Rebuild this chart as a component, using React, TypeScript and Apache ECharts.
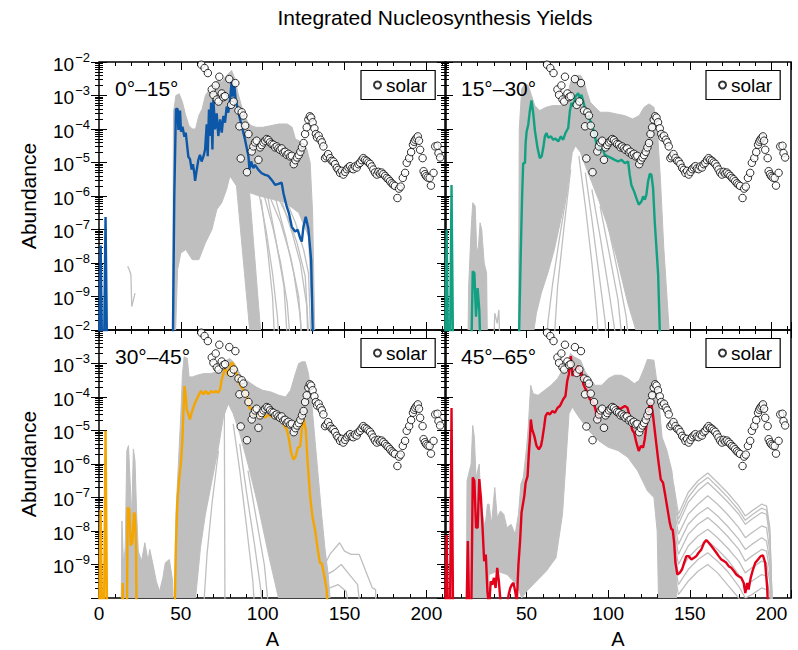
import { useEffect, useRef } from 'react';
import * as echarts from 'echarts';

const FONT = '"Liberation Sans", Arial, Helvetica, sans-serif';
const GREY = '#bfbfbf';

// ---------- labels ----------
const titleText = 'Integrated Nucleosynthesis Yields';
const panelLabels = ['0°–15°', '15°–30°', '30°–45°', '45°–65°'];
const lineColors = ['#0c57a8', '#12a083', '#f4a500', '#e2001a'];
const xTickLabels = [0, 50, 100, 150, 200];

// ---------- data: [A, log10(abundance)]; -11 marks a zero yield (below the axis floor) ----------
const solarLog = [
  [62.5,-2.08],[64.5,-2.18],[66.5,-2.33],[68.9,-2.82],[69.9,-2.98],[71.3,-2.70],[72,-3.12],[73,-3.18],[73.5,-2.44],[75,-2.94],
  [76,-3.05],[77,-3.02],[79.6,-2.51],[80.7,-3.28],[82.3,-3.18],[83.3,-2.63],[85.2,-3.45],[85.8,-3.92],[86.6,-4.88],[87.2,-3.50],
  [88.2,-3.60],[89.3,-3.90],[90.4,-5.29],[91.3,-4.15],[93.3,-4.67],[94.3,-4.52],[95.3,-4.40],[96.3,-4.35],[97.4,-4.92],[98.4,-4.55],
  [99.4,-4.48],[100.5,-4.40],[101.5,-4.35],[102.5,-4.30],[103.5,-4.33],[104.5,-4.40],[105.5,-4.45],[106.6,-4.47],[107.6,-4.55],[108.6,-4.52],
  [109.6,-4.58],[110.6,-4.62],[111.6,-4.58],[112.7,-4.70],[113.7,-4.68],[114.7,-4.77],[115.7,-4.74],[116.8,-4.82],[117.8,-4.80],[119,-5.05],
  [120,-4.93],[121,-4.85],[122,-4.78],[123,-4.68],[124,-4.55],[125,-4.42],[125.9,-4.15],[126.9,-3.95],[127.9,-3.72],[128.8,-3.62],
  [129.6,-3.66],[130.5,-3.80],[131.6,-3.98],[132.5,-4.15],[133.2,-4.25],[134.2,-4.20],[135.3,-4.32],[136.2,-4.40],[137.1,-4.52],[138.1,-4.87],
  [139,-4.82],[140,-4.75],[141.2,-4.87],[142.2,-4.95],[143.2,-4.97],[144.2,-5.05],[145.3,-5.16],[146.3,-5.22],[147.3,-5.31],[148.3,-5.25],
  [149.3,-5.36],[150.4,-5.28],[151.4,-5.20],[152.4,-5.15],[153.4,-5.11],[154.4,-5.18],[155.4,-5.20],[156.4,-5.12],[157.5,-5.15],[158.5,-5.05],
  [159.5,-5.01],[160.5,-4.93],[161.5,-4.87],[162.5,-4.92],[163.6,-4.95],[164.6,-5.00],[165.6,-5.04],[166.6,-5.12],[167.6,-5.21],[168.6,-5.30],
  [169.7,-5.36],[170.7,-5.28],[171.7,-5.33],[172.7,-5.30],[173.7,-5.35],[174.8,-5.40],[175.8,-5.46],[176.8,-5.50],[177.8,-5.56],[178.8,-5.62],
  [179.8,-5.66],[180.8,-5.70],[182.3,-6.06],[183.3,-5.78],[184.3,-5.72],[185.6,-5.46],[187,-5.31],[188,-5.01],[189.5,-4.87],[190.7,-4.69],
  [191.8,-4.47],[192.5,-4.38],[193.2,-4.32],[194,-4.27],[194.8,-4.22],[195.5,-4.35],[196.2,-4.62],[197.7,-4.87],[198.3,-5.26],[199.1,-5.35],
  [199.9,-5.41],[200.8,-5.45],[202,-5.46],[202.8,-5.69],[204.4,-5.31],[205.4,-4.52],[206.8,-4.50],[207.4,-4.72],[208.4,-4.85]
];

const blueLog = [
  [0,-11],[1,-7.48],[2,-11],[3,-11],[4,-6.63],[5,-11],[45,-11],[46,-6.0],[47,-3.4],[48,-3.4],[48.5,-4.03],[49.5,-3.45],[50.1,-4.08],
  [51,-3.93],[52.2,-4.23],[53,-4.11],[54.6,-4.83],[55.6,-4.9],[56.6,-5.21],[57.4,-5.05],[58.3,-5.35],[58.7,-5.55],[59.7,-5.22],[60.7,-4.92],
  [61.7,-4.77],[62.7,-4.97],[63.8,-4.82],[64.8,-4.62],[65.8,-3.86],[66.4,-4.81],[67.2,-3.42],[67.8,-4.21],[68.5,-3.21],[69.3,-4.61],
  [69.9,-3.12],[70.9,-4.01],[71.9,-3.53],[72.9,-4.21],[74,-3.71],[75,-4.11],[76,-3.61],[77,-3.81],[78,-3.33],[79,-3.51],[80.1,-3.11],
  [81.1,-2.55],[81.7,-3.03],[82.7,-2.71],[83.5,-3.11],[85.2,-3.51],[87.2,-3.91],[89.2,-4.31],[91.3,-4.81],[91.9,-5.21],[92.9,-4.97],
  [94.3,-5.17],[95.3,-5.07],[97.4,-5.22],[99.4,-5.32],[101.5,-5.37],[103.5,-5.40],[105.5,-5.52],[107.6,-5.67],[109.6,-5.64],[111.6,-5.60],
  [112.7,-5.92],[114.7,-6.32],[116.1,-6.52],[117.8,-6.92],[119.8,-7.06],[121.4,-7.01],[122.9,-7.26],[123.9,-7.36],[124.9,-6.92],[126.3,-6.62],
  [127.9,-6.97],[129.6,-7.91],[131,-11]
];

const tealLog = [
  [0,-11],[1,-7.0],[2,-11],[3,-11],[4,-5.67],[5,-11],[16,-11],[17,-8.25],[18,-8.3],[19,-9.6],[20,-8.75],[21,-9.4],[22,-11],
  [45,-11],[46.5,-7.52],[47.3,-5.92],[47.9,-5.02],[49,-5.02],[49.4,-4.42],[50,-4.08],[51,-3.88],[52,-3.45],[53,-3.15],[54.1,-3.55],
  [55.1,-4.05],[56.7,-4.57],[58.1,-4.87],[59.2,-4.82],[60.2,-4.57],[61.2,-4.22],[62.2,-4.12],[63.2,-4.26],[64.9,-4.22],[66.3,-4.32],
  [67.7,-4.29],[69.4,-4.37],[71,-4.22],[72.4,-4.32],[73.8,-4.12],[75.5,-3.97],[76.5,-3.47],[77.5,-3.22],[78.5,-3.32],[80,-3.03],
  [81.6,-2.93],[82.6,-3.08],[83.6,-2.98],[84.7,-3.17],[85.7,-3.37],[87.7,-3.57],[89.8,-3.87],[91.8,-4.17],[92.8,-4.47],[93.8,-4.42],
  [94.9,-4.67],[95.9,-4.52],[96.9,-4.62],[97.9,-4.77],[100,-4.82],[102,-4.87],[104,-4.92],[106.1,-4.97],[108.1,-4.92],[110.2,-5.02],
  [112.2,-4.97],[113.2,-5.37],[114.2,-5.67],[115.9,-5.87],[117.3,-6.07],[118.7,-6.26],[120.4,-6.16],[121.4,-6.01],[122.4,-6.11],
  [123.4,-5.96],[124.4,-5.57],[125.5,-5.34],[126.5,-5.37],[127.5,-5.77],[128.5,-6.76],[130.6,-8.35],[132.2,-11]
];

const orangeLog = [
  [0,-11],[1,-7.37],[2,-11],[3,-11],[4,-5.01],[5,-11],[14,-11],[14.5,-9.55],[15,-11],[17,-11],[17.5,-7.3],[18.5,-7.35],[19.4,-8.43],
  [20.4,-8.35],[21.4,-7.45],[22,-7.5],[22.6,-8.43],[23,-11],[46,-11],[47,-8.43],[47.9,-7.13],[48.9,-6.48],[50.1,-5.94],[50.9,-5.34],
  [51.5,-4.55],[52.2,-3.67],[53,-3.97],[53.6,-4.37],[54.6,-4.52],[55.6,-4.67],[56.6,-4.47],[58.3,-4.22],[59.7,-4.07],[61.1,-3.92],
  [62.4,-3.82],[63.8,-3.92],[65.2,-3.82],[66.8,-3.92],[68.5,-3.82],[69.9,-3.87],[71.3,-3.82],[72.9,-3.87],[74,-3.77],[75,-3.47],
  [76,-3.32],[77,-3.15],[78,-3.22],[79,-3.37],[80.1,-3.07],[81.1,-2.97],[82.1,-3.02],[83.1,-3.17],[84.1,-3.32],[85.6,-3.57],
  [87.2,-3.72],[88.8,-3.82],[90.3,-3.97],[91.3,-4.17],[92.3,-4.37],[93.3,-4.32],[94.3,-4.47],[95.3,-4.57],[96.9,-4.47],[98.4,-4.62],
  [99.8,-4.52],[101.5,-4.62],[103.5,-4.52],[105.5,-4.59],[107.6,-4.59],[109.6,-4.67],[111.6,-4.67],[113.3,-4.87],[114.7,-4.97],
  [116.1,-5.27],[117.4,-5.67],[118.8,-5.87],[120.2,-5.77],[121.4,-5.52],[122.9,-5.47],[123.9,-4.97],[124.9,-4.62],[126.3,-4.97],
  [127.5,-5.97],[129,-6.97],[130.4,-7.57],[132,-7.97],[133.7,-8.57],[135,-8.96],[136.1,-8.96],[137.7,-9.36],[139.1,-9.76],[140.2,-11]
];

const redLog = [
  [0,-11],[1,-8.12],[2,-11],[3,-11],[4,-4.33],[5,-11],[13,-11],[14,-8.3],[15,-11],[16,-11],[17,-6.4],[18,-6.5],[19,-7.9],[20,-7.9],
  [21,-6.45],[22,-7.0],[23,-7.9],[24,-8.9],[25,-8.7],[26,-9.8],[27,-10.3],[28,-9.5],[29,-9.6],[30,-9.4],[31,-9.7],[32,-9.1],[33,-9.5],
  [34,-10.1],[35,-10.2],[36,-10.1],[37,-10.3],[38,-10.2],[39,-9.9],[40,-9.7],[41,-9.6],[42,-9.55],[43,-9.8],[44,-10.1],[45,-9.0],
  [46,-8.3],[46.9,-7.45],[48.6,-6.95],[49.4,-6.56],[50.6,-6.36],[51.4,-5.66],[52,-5.26],[52.6,-4.67],[53.4,-4.97],[54.7,-5.16],
  [56.1,-5.46],[57.5,-5.56],[58.8,-5.46],[59.6,-5.26],[60.8,-4.87],[61.6,-4.57],[62.8,-4.47],[64.3,-4.52],[65.7,-4.42],[67.3,-4.47],
  [69,-4.32],[70.4,-4.27],[71.4,-4.17],[72.4,-4.07],[73.8,-3.97],[74.9,-3.52],[75.9,-3.32],[77.1,-2.78],[78.1,-3.37],[79.2,-3.27],
  [80.6,-3.15],[81.6,-3.07],[82.6,-3.37],[83.6,-3.22],[84.7,-3.61],[85.7,-3.72],[87.3,-3.87],[88.7,-4.07],[90.2,-4.12],[91.4,-4.22],
  [92.2,-4.37],[93.4,-4.67],[94.5,-4.37],[95.5,-4.47],[96.9,-4.37],[97.9,-4.47],[99.6,-4.37],[101,-4.42],[102.4,-4.32],[104,-4.37],
  [105.7,-4.29],[107.1,-4.37],[108.5,-4.32],[110.2,-4.27],[111.8,-4.32],[112.6,-4.47],[113.8,-4.77],[114.6,-4.97],[115.9,-5.07],
  [117.3,-5.37],[118.7,-5.61],[120,-5.46],[121.4,-5.51],[122.4,-5.26],[123.4,-4.87],[124.4,-4.47],[125.5,-4.17],[126.5,-4.22],
  [127.5,-4.57],[128.9,-5.16],[130.6,-5.86],[132.2,-6.46],[133.6,-6.56],[135,-6.95],[136.7,-7.45],[137.7,-7.75],[138.7,-7.95],
  [139.5,-7.95],[140.4,-8.35],[141.2,-8.95],[142.4,-9.3],[143.8,-9.25],[145.2,-9.15],[146.5,-8.95],[147.9,-8.75],[149.3,-8.75],
  [151,-8.85],[152.6,-8.8],[154,-8.75],[155.4,-8.65],[157.1,-8.55],[158.7,-8.35],[160.1,-8.27],[161.6,-8.35],[163.2,-8.45],
  [164.8,-8.55],[166.3,-8.65],[167.7,-8.75],[169.3,-8.85],[171,-8.9],[172.4,-8.95],[173.8,-9.05],[175.4,-9.1],[177.1,-9.2],
  [178.5,-9.3],[179.9,-9.35],[181.6,-9.4],[183,-9.55],[184,-9.85],[185.2,-9.55],[186,-9.75],[187.3,-9.4],[188.7,-9.15],[190.1,-8.95],
  [191.8,-8.85],[193.4,-8.75],[194.8,-8.73],[196.2,-8.95],[197.5,-9.75],[198.3,-11]
];

// grey tracer envelopes (outline of the densely overlapping tracer curves)
const greyBand1 = [
  [45,-10.5],[45.5,-3.5],[47,-3.0],[49,-2.95],[51,-3.2],[53,-3.6],[55,-3.9],[57,-4.0],[59,-4.0],[61,-3.6],[63,-3.4],[65,-3.0],
  [67,-2.85],[69,-2.8],[71,-2.6],[73,-2.55],[75,-2.6],[77,-2.45],[79,-2.35],[81,-2.25],[83,-2.5],[85,-2.95],[87,-3.3],[89,-3.6],
  [91,-3.8],[93,-3.9],[96,-3.95],[100,-3.95],[105,-3.9],[110,-3.85],[115,-3.85],[118,-3.95],[120,-4.3],[124,-4.4],[127,-4.6],
  [129,-5.0],[130.5,-6.5],[132,-10.5],
  [131,-10.5],[128,-7.2],[122,-6.5],[114,-6.2],[106,-6.1],[98,-6.0],[92,-5.9],[99.5,-10.5],[93,-10.5],[84,-5.7],[80,-5.4],
  [78,-5.8],[75,-6.2],[72,-6.4],[69,-7.0],[65,-7.4],[61,-7.9],[57,-7.9],[53,-7.6],[50,-7.7],[48,-8.2],[46.5,-10.5]
];
const greyBand2 = [
  [45,-10.5],[45.5,-4.0],[47,-2.8],[49,-2.65],[51,-2.7],[53,-3.0],[55,-3.3],[58,-3.45],[62,-3.35],[66,-3.3],[70,-3.3],[73,-3.3],
  [75,-3.0],[77,-2.6],[79,-2.45],[81,-2.4],[83,-2.4],[85,-2.55],[87,-2.9],[89,-3.2],[92,-3.35],[95,-3.5],[100,-3.5],[105,-3.55],
  [110,-3.6],[115,-3.7],[119,-3.6],[122,-3.35],[125,-3.25],[128,-3.35],[130,-3.9],[132,-5.5],[134,-7.5],[136,-9.0],[138,-10.5],
  [120,-10.5],[112,-9.2],[105,-7.8],[99,-6.8],[94,-6.1],[90,-5.6],[86,-5.1],[83,-4.7],[80,-4.5],[78,-4.7],[75,-5.8],[71,-6.7],
  [67,-7.6],[63,-8.3],[59,-8.9],[56,-9.5],[53,-10.5]
];
const greySmall2 = [
  [14,-10.5],[14.5,-8.7],[16,-7.0],[17,-6.2],[18.5,-6.3],[19.5,-7.7],[20.5,-7.5],[21.5,-6.8],[22.5,-7.0],[24,-8.0],[25.5,-8.3],[26,-10.5]
];
const greyBand3 = [
  [46,-10.5],[47,-7.5],[48.5,-6],[50,-4.5],[51,-3.3],[52,-2.8],[54,-2.85],[55,-3.4],[57,-3.4],[60,-3.35],[64,-3.3],[68,-3.3],
  [72,-3.25],[74,-3.1],[76,-2.95],[78,-2.9],[80,-2.85],[82,-2.95],[84,-3.1],[86,-3.3],[88,-3.45],[90,-3.5],[93,-3.6],[96,-3.7],
  [100,-3.8],[105,-3.85],[110,-3.95],[114,-4.0],[117,-3.8],[120,-3.3],[122,-3.0],[124,-2.95],[126,-2.95],[128,-3.3],[130,-4.2],
  [132,-5.3],[134,-6.4],[136,-7.5],[138,-8.5],[140,-9.3],[142,-10.5],
  [112,-10.5],[104,-8.8],[97,-7.2],[91,-6.0],[86,-5.1],[82,-4.5],[79,-4.2],[76,-4.6],[73,-5.5],[69,-6.5],[65,-7.5],[62,-8.5],
  [60,-9.5],[58,-10.5]
];
const greySmall3 = [
  [13.5,-10.5],[14,-7.7],[15,-9.0],[16,-8.5],[17,-5.6],[18,-5.45],[19,-6.5],[20,-7.6],[21,-5.55],[22,-5.9],[23,-7.5],[24,-8.6],
  [26,-8.9],[28,-8.35],[30,-8.9],[31,-8.55],[33,-9.0],[35,-9.5],[37,-9.8],[39,-9.4],[40.5,-8.95],[43,-8.85],[45,-9.5],[45.5,-10.5]
];
const greyBand4 = [
  [13,-10.5],[13.5,-6.5],[14.5,-6.3],[16,-6.0],[17,-4.85],[18,-5.2],[19,-6.4],[20,-6.2],[21,-6.0],[22,-7.2],[23,-7.5],[24.5,-7.9],
  [26,-7.2],[27,-7.2],[28.5,-7.8],[30.5,-6.7],[32,-7.6],[34,-7.4],[36,-7.5],[38,-7.9],[40.5,-7.8],[43,-8.1],[45,-7.5],[46.5,-6.6],
  [48,-6.4],[50,-5.5],[51,-4.9],[52.5,-3.65],[54,-3.9],[57,-3.95],[61,-3.8],[65,-3.65],[69,-3.45],[72,-3.2],[75,-2.95],[77,-2.7],
  [79,-2.8],[83,-2.9],[86,-3.25],[89,-3.45],[92,-3.65],[96,-3.65],[100,-3.45],[104,-3.35],[108,-3.35],[112,-3.45],[116,-3.6],
  [119,-3.5],[122,-3.15],[124,-2.88],[128,-2.9],[130,-3.6],[131,-4.1],[133,-5.2],[136,-5.6],[139,-6.2],[141,-7.0],[142,-10.5],
  [131,-10.5],[130,-8],[128,-7.0],[124,-6.8],[118,-6.2],[112,-5.8],[106,-5.6],[100,-5.5],[94,-5.3],[88,-5.0],[82,-4.6],[78,-4.3],
  [76,-4.5],[74,-6.0],[72,-7.5],[68,-8.8],[62,-9.2],[56,-9.5],[50,-9.8],[47,-10.0],[44,-9.6],[38,-9.3],[32,-9.2],[27,-9.3],[26,-10.5]
];

// individual grey tracer curves that stand out from the envelopes
const greyLines1 = [
  [[17.5,-8.1],[18.5,-8.2],[19.5,-8.35],[20,-9.3],[21,-9.1],[22,-8.9]],
  [[98,-6.0],[102,-7.0],[106,-8.3],[109,-9.6],[111,-11]],
  [[101,-6.0],[106,-6.9],[111,-8.0],[115,-9.2],[118,-11]],
  [[105,-6.1],[111,-6.8],[117,-7.8],[122,-9.0],[125,-11]],
  [[110,-6.1],[116,-6.7],[121,-7.4],[126,-8.4],[129,-11]],
  [[115,-6.2],[120,-6.8],[125,-7.6],[128,-8.3],[130,-11]],
  [[99,-6.1],[103,-7.6],[106,-9.0],[108,-11]],
  [[103,-6.0],[108,-7.3],[113,-8.7],[116,-11]],
  [[108,-6.1],[114,-7.2],[119,-8.3],[123,-9.6],[124.5,-11]],
  [[112,-6.2],[118,-7.1],[123,-8.0],[127,-9.3],[128,-11]]
];
const greyLines2 = [
  [[29.5,-11],[30.5,-9.5],[32,-9.8],[33,-9.4],[34,-11]],
  [[82,-4.8],[86,-6.3],[90,-8.0],[93,-9.5],[95,-11]],
  [[86,-5.3],[90,-6.7],[94,-8.2],[98,-9.7],[100,-11]],
  [[90,-5.8],[95,-7.2],[100,-8.7],[104,-10.0],[106,-11]],
  [[95,-6.3],[101,-7.8],[106,-9.1],[110,-11]],
  [[100,-6.9],[106,-8.3],[111,-9.6],[114,-11]],
  [[75,-5.8],[70,-7.3],[66,-8.6],[63,-9.8],[62,-11]],
  [[77,-5.2],[73,-6.9],[69,-8.7],[66,-11]]
];
const greyLines3 = [
  [[82,-4.8],[86,-6.2],[90,-7.8],[94,-9.5],[96,-11]],
  [[86,-5.4],[90,-6.8],[95,-8.4],[99,-9.8],[101,-11]],
  [[91,-6.2],[96,-7.6],[101,-9.0],[105,-11]],
  [[73,-5.6],[69,-7.2],[66,-8.7],[63,-11]],
  [[76.5,-3.2],[77,-11]],
  [[138,-9.0],[141,-8.7],[147,-8.35],[150,-8.6],[154,-8.7],[159,-8.7],[163,-9.2],[167,-9.7],[169,-9.75],[169.5,-11]],
  [[139,-9.3],[143,-9.2],[148,-9.0],[153,-9.3],[158,-9.6],[161,-11]],
  [[141,-9.7],[146,-9.6],[151,-9.8],[155,-11]]
];
const greyLines4 = [
  [[140,-6.6],[143,-7.5],[149,-6.85],[155,-6.5],[161,-6.27],[167,-6.55],[173,-6.85],[180,-7.25],[184,-7.55],[188,-7.4],[194,-7.2],[197,-7.25],[199,-7.9],[201,-11]],
  [[140,-6.8],[143,-7.65],[149,-7.0],[155,-6.62],[161,-6.4],[167,-6.68],[173,-6.98],[180,-7.38],[184,-7.68],[188,-7.52],[194,-7.32],[197,-7.38],[199,-8.05],[201,-11]],
  [[140,-7.0],[143,-7.8],[149,-7.15],[155,-6.8],[161,-6.55],[167,-6.83],[173,-7.12],[180,-7.5],[184,-7.8],[188,-7.65],[194,-7.45],[197,-7.5],[199,-8.2],[201,-11]],
  [[140,-7.2],[143,-8.1],[149,-7.5],[155,-7.2],[161,-6.95],[167,-7.2],[173,-7.5],[180,-7.9],[184,-8.2],[188,-8.05],[194,-7.85],[197,-7.9],[199,-8.6],[201,-11]],
  [[140,-7.5],[143,-8.4],[149,-7.8],[155,-7.5],[161,-7.3],[167,-7.55],[173,-7.85],[180,-8.25],[184,-8.55],[188,-8.4],[194,-8.2],[197,-8.3],[199,-8.9],[201,-11]],
  [[140,-7.8],[143,-8.7],[149,-8.1],[155,-7.8],[161,-7.6],[167,-7.85],[173,-8.15],[180,-8.55],[184,-8.9],[188,-8.75],[194,-8.55],[197,-8.6],[199,-9.2],[201,-11]],
  [[140,-8.1],[143,-9.0],[149,-8.45],[155,-8.15],[161,-7.95],[167,-8.2],[173,-8.5],[180,-8.9],[184,-9.25],[188,-9.1],[194,-8.9],[197,-8.95],[199,-9.5],[201,-11]],
  [[140,-8.4],[143,-9.3],[149,-8.8],[155,-8.5],[161,-8.3],[167,-8.55],[173,-8.85],[180,-9.3],[184,-9.6],[188,-9.5],[194,-9.3],[197,-9.35],[199,-9.9],[201,-11]],
  [[140,-8.7],[143,-9.6],[149,-9.15],[155,-8.85],[161,-8.65],[167,-8.9],[173,-9.2],[180,-9.65],[184,-10.0],[188,-9.9],[194,-9.7],[197,-9.75],[199,-10.3],[201,-11]],
  [[140,-9.0],[143,-9.9],[149,-9.5],[155,-9.2],[161,-9.0],[167,-9.25],[173,-9.6],[180,-10.0],[184,-10.4],[188,-10.3],[194,-10.1],[197,-10.2],[199,-10.6],[201,-11]]
];

const colourLines = [blueLog, tealLog, orangeLog, redLog];
const bands = [[greyBand1], [greyBand2, greySmall2], [greyBand3, greySmall3], [greyBand4]];
const greyLines = [greyLines1, greyLines2, greyLines3, greyLines4];

// ---------- layout ----------
const grids = [
  { left: 99, top: 62, width: 347, height: 268 },
  { left: 445, top: 62, width: 346, height: 268 },
  { left: 99, top: 330, width: 347, height: 268 },
  { left: 445, top: 330, width: 346, height: 268 },
];

const toVal = (pts) => pts.map(([a, l]) => [a, Math.pow(10, l)]);

const minorY: number[] = [];
for (let e = -10; e < -2; e++) for (let k = 2; k <= 9; k++) minorY.push(k * Math.pow(10, e));
const minorX: number[] = [];
for (let v = 0; v <= 210; v += 10) minorX.push(v);

function buildOption() {
  const xAxis: any[] = [];
  const yAxis: any[] = [];
  const series: any[] = [];
  const graphic: any[] = [];
  const legend: any[] = [];
  const tickStyle = { color: '#000', width: 1 };

  grids.forEach((g, p) => {
    const bottomRow = p >= 2;
    const leftCol = p % 2 === 0;
    const baseX = { type: 'value', gridIndex: p, min: 0, max: 212, axisLine: { show: false, onZero: false }, splitLine: { show: false } };
    xAxis.push(
      { ...baseX, position: 'bottom', interval: 50,
        axisTick: { show: true, inside: true, length: 8, lineStyle: tickStyle },
        axisLabel: { show: bottomRow, margin: 6, fontSize: 19, fontFamily: FONT, color: '#000',
          formatter: (v: number) => (xTickLabels.includes(v) && (leftCol || v !== 0)) ? String(v) : '' } },
      { ...baseX, position: 'bottom', interval: 10,
        axisTick: { show: true, inside: true, length: 4, lineStyle: tickStyle, customValues: minorX }, axisLabel: { show: false } },
      { ...baseX, position: 'top', interval: 50,
        axisTick: { show: true, inside: true, length: 8, lineStyle: tickStyle }, axisLabel: { show: false } },
      { ...baseX, position: 'top', interval: 10,
        axisTick: { show: true, inside: true, length: 4, lineStyle: tickStyle, customValues: minorX }, axisLabel: { show: false } },
    );
    const baseY = { type: 'log', logBase: 10, gridIndex: p, min: 1e-10, max: 1e-2, splitNumber: 8, axisLine: { show: false }, splitLine: { show: false } };
    yAxis.push(
      { ...baseY, position: 'left',
        axisTick: { show: true, inside: true, length: 8, lineStyle: tickStyle },
        axisLabel: { show: leftCol, margin: 9,
          formatter: (v: number) => {
            const e = Math.round(Math.log10(v));
            if (e <= -10) return '';
            return '{b|10}{s|\u2212' + (-e) + '}';
          },
          rich: {
            b: { fontSize: 19, fontFamily: FONT, color: '#000', padding: [4, 0, 0, 0], verticalAlign: 'bottom' },
            s: { fontSize: 13, fontFamily: FONT, color: '#000', verticalAlign: 'top', padding: [0, 0, 0, 1] },
          } } },
      { ...baseY, position: 'left',
        axisTick: { show: true, inside: true, length: 4, lineStyle: tickStyle, customValues: minorY }, axisLabel: { show: false } },
      { ...baseY, position: 'right',
        axisTick: { show: true, inside: true, length: 8, lineStyle: tickStyle }, axisLabel: { show: false } },
      { ...baseY, position: 'right',
        axisTick: { show: true, inside: true, length: 4, lineStyle: tickStyle, customValues: minorY }, axisLabel: { show: false } },
    );

    const xi = 4 * p;
    bands[p].forEach((band) => {
      const data = toVal(band);
      series.push({
        type: 'custom', xAxisIndex: xi, yAxisIndex: xi, clip: true, silent: true, z: 1, data,
        renderItem: (params: any, api: any) => {
          if (params.dataIndex !== 0) return null;
          return { type: 'polygon', shape: { points: data.map((d) => api.coord(d)) }, style: { fill: GREY, stroke: GREY, lineWidth: 1 } };
        },
      });
    });
    greyLines[p].forEach((ln) => {
      series.push({
        type: 'line', xAxisIndex: xi, yAxisIndex: xi, data: toVal(ln), showSymbol: false, symbol: 'none',
        silent: true, z: 2, clip: true, lineStyle: { color: GREY, width: 1.3 },
      });
    });
    series.push({
      type: 'line', xAxisIndex: xi, yAxisIndex: xi, data: toVal(colourLines[p]), showSymbol: false, symbol: 'none',
      silent: true, z: 3, clip: true, lineStyle: { color: lineColors[p], width: 2.4 },
    });
    series.push({
      type: 'scatter', name: 'solar', xAxisIndex: xi, yAxisIndex: xi, data: toVal(solarLog), symbol: 'circle', symbolSize: 7.5,
      itemStyle: { color: '#fff', borderColor: '#000', borderWidth: 1 }, z: 5, clip: true, silent: true,
    });

    legend.push({
      data: ['solar'], left: g.left + g.width - 10 - 75, top: g.top + 8.5, orient: 'horizontal',
      borderColor: '#000', borderWidth: 1.2, borderRadius: 0, padding: [5, 8, 5, 12], itemWidth: 7, itemHeight: 7,
      icon: 'circle', selectedMode: false, backgroundColor: '#fff',
      textStyle: { fontSize: 19, fontFamily: FONT, color: '#000' },
    });

    graphic.push({
      type: 'text', x: g.left + 16, y: g.top + 26, z: 20,
      style: { text: panelLabels[p], fontSize: 21, fontFamily: FONT, fill: '#000', textAlign: 'left', textVerticalAlign: 'middle', align: 'left', verticalAlign: 'middle' },
    });
    if (leftCol) {
      graphic.push({
        type: 'text', x: 28, y: g.top + g.height / 2, rotation: Math.PI / 2, z: 20,
        style: { text: 'Abundance', fontSize: 21, fontFamily: FONT, fill: '#000', textAlign: 'center', textVerticalAlign: 'middle', align: 'center', verticalAlign: 'middle' },
      });
    }
    if (bottomRow) {
      graphic.push({
        type: 'text', x: g.left + g.width / 2, y: 649, z: 20,
        style: { text: 'A', fontSize: 20, fontFamily: FONT, fill: '#000', textAlign: 'center', textVerticalAlign: 'bottom', align: 'center', verticalAlign: 'bottom' },
      });
    }
  });

  graphic.push({
    type: 'text', x: 435, y: 17, z: 20,
    style: { text: titleText, fontSize: 21, fontFamily: FONT, fill: '#000', textAlign: 'center', textVerticalAlign: 'middle', align: 'center', verticalAlign: 'middle' },
  });

  return {
    animation: false,
    backgroundColor: '#fff',
    grid: grids.map((g) => ({ ...g, show: true, borderColor: '#000', borderWidth: 1.5, backgroundColor: 'transparent', containLabel: false, outerBoundsMode: 'none' })),
    xAxis,
    yAxis,
    legend,
    series,
    graphic,
  };
}

export default function App() {
  const ref = useRef<HTMLDivElement>(null);
  useEffect(() => {
    if (!ref.current) return;
    const chart = echarts.init(ref.current, null, { renderer: 'svg', width: 798, height: 650 });
    chart.setOption(buildOption() as any);
    return () => chart.dispose();
  }, []);
  return <div ref={ref} style={{ position: 'absolute', left: 0, top: 0, width: 798, height: 650, background: '#fff' }} />;
}
